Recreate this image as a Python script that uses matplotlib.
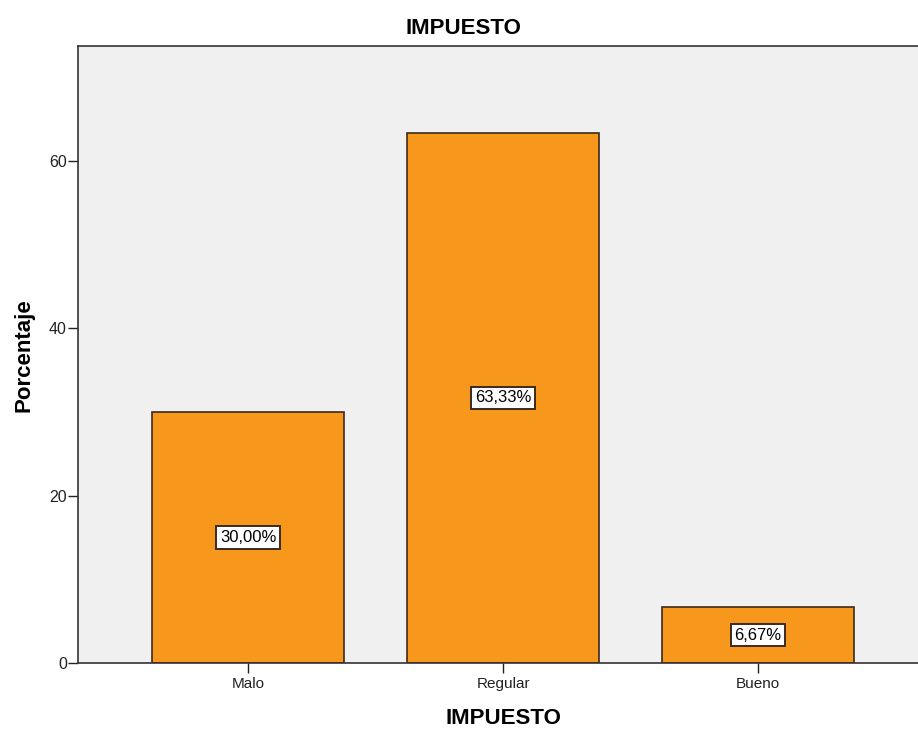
import matplotlib.pyplot as plt

# Data
categories = ['Malo', 'Regular', 'Bueno']
percentages = [30.00, 63.33, 6.67]
labels = ['30,00%', '63,33%', '6,67%']
y_ticks = [0, 20, 40, 60]

plt.rcParams['font.family'] = ['Liberation Sans', 'DejaVu Sans']

W, H = 918, 729
fig = plt.figure(figsize=(W / 100, H / 100), dpi=100)
ax = fig.add_axes([78 / W, 66 / H, 1 - 78 / W, (663 - 46) / H])
ax.set_facecolor('#f0f0f0')

x = list(range(len(categories)))
ax.bar(x, percentages, width=0.75, color='#f7981d', edgecolor='#3a2a1f', linewidth=1.2, zorder=2)

# value labels in the middle of each bar
for xi, v, lab in zip(x, percentages, labels):
    ax.text(xi, v / 2, lab, ha='center', va='center', fontsize=12, zorder=3,
            bbox=dict(boxstyle='square,pad=0.22', facecolor='white', edgecolor='#3a2a1f', linewidth=1.4))

ax.set_xlim(-0.667, 2.627)
ax.set_ylim(0, 73.7)
ax.set_xticks(x)
ax.set_xticklabels(categories, fontsize=11)
ax.set_yticks(y_ticks)
ax.set_yticklabels([str(t) for t in y_ticks], fontsize=11.5)
ax.tick_params(axis='both', direction='out', length=7, width=1, colors='#222222')
ax.tick_params(axis='x', pad=3)
ax.tick_params(axis='y', pad=1)

for side in ['left', 'bottom', 'top']:
    ax.spines[side].set_color('#333333')
    ax.spines[side].set_linewidth(1.2)
ax.spines['right'].set_visible(False)

# titles placed in figure pixels
fig.text(463 / W, 1 - 28 / H, 'IMPUESTO', ha='center', va='center', fontsize=16, fontweight='bold')
fig.text(503 / W, 1 - 718 / H, 'IMPUESTO', ha='center', va='center', fontsize=16, fontweight='bold')
fig.text(24 / W, 1 - 355 / H, 'Porcentaje', ha='center', va='center', rotation=90,
         fontsize=16, fontweight='bold')

plt.savefig('out.png', dpi=100)
